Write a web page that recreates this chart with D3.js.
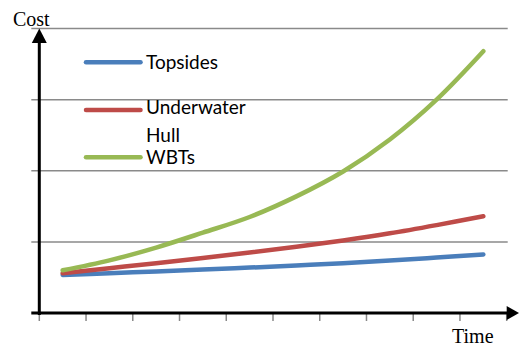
<!DOCTYPE html>
<html>
<head>
<meta charset="utf-8">
<script src="https://cdn.jsdelivr.net/npm/d3@7"></script>
<style>
  body { margin: 0; background: #fff; }
  svg { display: block; }
</style>
</head>
<body>
<svg id="chart"></svg>
<script>
// chart values
const periods = [1, 2, 3, 4, 5, 6, 7, 8, 9, 10];
const yTicks = [0, 50, 100, 150, 200];
const topsides = [26.7, 28, 29.2, 30.5, 31.9, 33.4, 35, 36.9, 39, 41.2];
const underwaterHull = [28, 31.5, 35, 38.7, 42.5, 46.6, 51, 56, 61.8, 68];
const wbts = [30, 37, 46, 56.5, 67.5, 82, 99.5, 122, 150, 184];

const seriesNames = ["Topsides", "Underwater Hull", "WBTs"];
const seriesColors = ["#4a7ebb", "#be4b48", "#98b954"];

const series = seriesNames.map((name, i) => ({
  name: name,
  color: seriesColors[i],
  values: [topsides, underwaterHull, wbts][i]
}));

const config = {
  width: 519,
  height: 345,
  margin: {top: 28.5, right: 12.3, bottom: 32, left: 39.3}
};

const svg = d3.select("#chart")
  .attr("width", config.width)
  .attr("height", config.height);

const xScale = d3.scaleBand()
  .domain(periods)
  .range([config.margin.left, config.width - config.margin.right]);

const yScale = d3.scaleLinear()
  .domain([0, 200])
  .range([config.height - config.margin.bottom, config.margin.top]);

const x0 = xScale.range()[0];
const x1 = xScale.range()[1];
const yBase = yScale(0);

// gridlines (with the little outside ticks on the left)
svg.append("g")
  .selectAll("line")
  .data(yTicks.filter(d => d > 0))
  .join("line")
    .attr("x1", x0 - 8)
    .attr("x2", x1 + 1)
    .attr("y1", d => yScale(d))
    .attr("y2", d => yScale(d))
    .attr("stroke", "#8a8a8a")
    .attr("stroke-width", 1.5);

// x axis ticks below the axis line
const xTicks = periods.map(p => xScale(p)).concat([x1]);
svg.append("g")
  .selectAll("line")
  .data(xTicks)
  .join("line")
    .attr("x1", d => d)
    .attr("x2", d => d)
    .attr("y1", yBase)
    .attr("y2", yBase + 8)
    .attr("stroke", "#888")
    .attr("stroke-width", 1.5);

// series lines
const line = d3.line()
  .x((d, i) => xScale(periods[i]) + xScale.bandwidth() / 2)
  .y(d => yScale(d))
  .curve(d3.curveCatmullRom.alpha(0.5));

svg.append("g")
  .selectAll("path")
  .data(series)
  .join("path")
    .attr("d", d => line(d.values))
    .attr("fill", "none")
    .attr("stroke", d => d.color)
    .attr("stroke-width", 4.5)
    .attr("stroke-linecap", "round")
    .attr("stroke-linejoin", "round");

// axes with arrow heads
svg.append("line")
  .attr("x1", x0 - 8).attr("x2", x1 + 2)
  .attr("y1", yBase).attr("y2", yBase)
  .attr("stroke", "#000").attr("stroke-width", 3);
svg.append("path")
  .attr("d", `M${x1},${yBase - 7}L${config.width},${yBase}L${x1},${yBase + 7}Z`)
  .attr("fill", "#000");

svg.append("line")
  .attr("x1", x0).attr("x2", x0)
  .attr("y1", yBase + 2).attr("y2", yScale(200) + 12)
  .attr("stroke", "#000").attr("stroke-width", 3);
svg.append("path")
  .attr("d", `M${x0 - 7.5},${yScale(200) + 14.5}L${x0},${yScale(200)}L${x0 + 7.5},${yScale(200) + 14.5}Z`)
  .attr("fill", "#000");

// axis titles
svg.append("text")
  .attr("x", 13)
  .attr("y", 26)
  .attr("font-family", "'Liberation Serif', 'Times New Roman', serif")
  .attr("font-size", "20px")
  .text("Cost");

svg.append("text")
  .attr("x", 452)
  .attr("y", 343)
  .attr("font-family", "'Liberation Serif', 'Times New Roman', serif")
  .attr("font-size", "20px")
  .text("Time");

// legend
const legendY = [62.3, 110, 157.3];
const legend = svg.append("g")
  .selectAll("g")
  .data(series)
  .join("g")
    .attr("transform", (d, i) => `translate(86,${legendY[i]})`);

legend.append("line")
  .attr("x1", 0).attr("x2", 54.5)
  .attr("stroke", d => d.color)
  .attr("stroke-width", 4.5)
  .attr("stroke-linecap", "round");

legend.append("text")
  .attr("x", 60)
  .attr("font-family", "Lato, 'Noto Sans', sans-serif")
  .attr("font-size", "19px")
  .attr("fill", "#000")
  .selectAll("tspan")
  .data(d => d.name === "Underwater Hull"
    ? [{t: "Underwater", dy: 4.3}, {t: "Hull", dy: 31.5}]
    : [{t: d.name, dy: 6.2}])
  .join("tspan")
    .attr("x", 60)
    .attr("y", t => t.dy)
    .text(t => t.t);
</script>
</body>
</html>
